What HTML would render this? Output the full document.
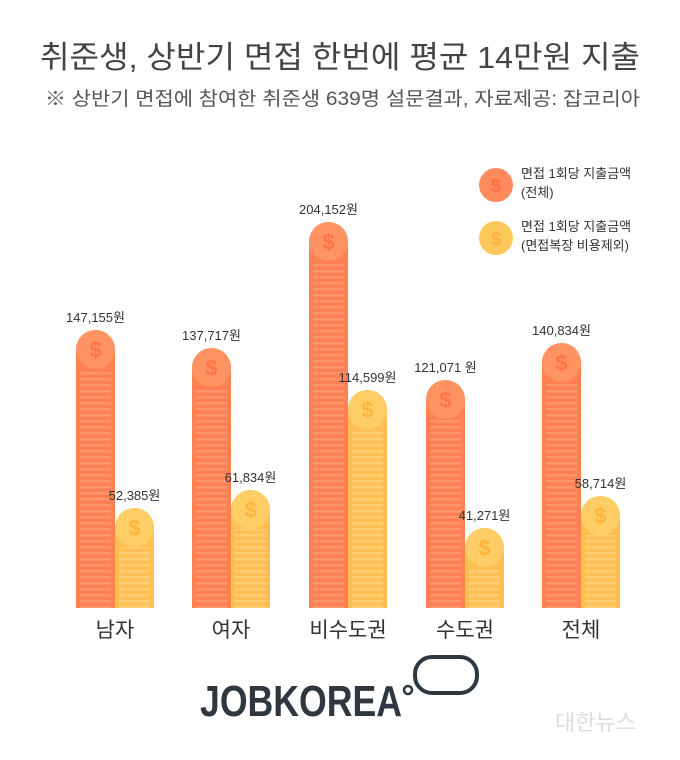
<!DOCTYPE html>
<html><head><meta charset="utf-8"><style>
body{margin:0;background:#fff;width:680px;height:755px;overflow:hidden;font-family:"Liberation Sans","Noto Sans CJK KR",sans-serif}
</style></head><body>
<svg width="680" height="755" viewBox="0 0 680 755" xmlns="http://www.w3.org/2000/svg" font-family="Liberation Sans, Noto Sans CJK KR, sans-serif">
<defs>
<pattern id="so" x="0" y="0" width="10" height="6" patternUnits="userSpaceOnUse"><rect width="10" height="6" fill="#ff7f55"/><rect y="0" width="10" height="2.5" fill="#ff956a"/></pattern>
<pattern id="sy" x="0" y="0" width="10" height="6" patternUnits="userSpaceOnUse"><rect width="10" height="6" fill="#ffbf55"/><rect y="0" width="10" height="2.5" fill="#ffcf72"/></pattern>
</defs>
<text x="40" y="68" font-size="31" fill="#444" textLength="600" lengthAdjust="spacingAndGlyphs">취준생, 상반기 면접 한번에 평균 14만원 지출</text>
<text x="45" y="105" font-size="19" fill="#555" textLength="595" lengthAdjust="spacingAndGlyphs">※ 상반기 면접에 참여한 취준생 639명 설문결과,  자료제공: 잡코리아</text>
<circle cx="496" cy="185" r="17" fill="#ff8a5c"/><text x="496" y="192" text-anchor="middle" font-size="18" font-weight="bold" fill="#ff7040">$</text>
<text x="521" y="178" font-size="13" fill="#333">면접 1회당 지출금액</text>
<text x="521" y="197" font-size="13" fill="#333">(전체)</text>
<circle cx="496" cy="238" r="17" fill="#ffc85a"/><text x="496" y="245" text-anchor="middle" font-size="18" font-weight="bold" fill="#ffb040">$</text>
<text x="521" y="231" font-size="13" fill="#333">면접 1회당 지출금액</text>
<text x="521" y="250" font-size="13" fill="#333">(면접복장 비용제외)</text>
<g id="bars"></g>
<text x="115" y="637" text-anchor="middle" font-size="21" fill="#333">남자</text>
<text x="231" y="637" text-anchor="middle" font-size="21" fill="#333">여자</text>
<text x="348" y="637" text-anchor="middle" font-size="21" fill="#333">비수도권</text>
<text x="465" y="637" text-anchor="middle" font-size="21" fill="#333">수도권</text>
<text x="581" y="637" text-anchor="middle" font-size="21" fill="#333">전체</text>
<text x="200" y="716" font-size="44" font-weight="bold" fill="#2f3840" textLength="202" lengthAdjust="spacingAndGlyphs">JOBKOREA</text>
<circle cx="408" cy="690" r="4" fill="none" stroke="#2f3840" stroke-width="2.5"/>
<rect x="415" y="657" width="62" height="36" rx="17" fill="none" stroke="#2f3840" stroke-width="4"/>
<text x="555" y="730" font-size="22" fill="#ddd">대한뉴스</text>
</svg>
<script>
const g=document.getElementById('bars');
const data=[[76,330,'o','147,155원'],[115,508,'y','52,385원'],[192,348,'o','137,717원'],[231,490,'y','61,834원'],[309,222,'o','204,152원'],[348,390,'y','114,599원'],[426,380,'o','121,071 원'],[465,528,'y','41,271원'],[542,343,'o','140,834원'],[581,496,'y','58,714원']];
let s='';
for(const [x,t,c,l] of data){
 const w=39,r=19.5,b=608;
 const base=c=='o'?'#ff8050':'#ffbf50', light=c=='o'?'#ff9462':'#ffcd66', sign=c=='o'?'#ff7448':'#ffb43e';
 s+=`<path d="M${x} ${b} V${t+r} A${r} ${r} 0 0 1 ${x+w} ${t+r} V${b} Z" fill="${base}"/>`;
 s+=`<rect x="${x+4}" y="${t+r*2}" width="${w-8}" height="${b-t-r*2}" fill="url(#s${c})"/>`;
 s+=`<circle cx="${x+r}" cy="${t+r}" r="${r}" fill="${light}"/>`;
 s+=`<text x="${x+r}" y="${t+r+8}" text-anchor="middle" font-size="22" font-weight="bold" fill="${sign}">$</text>`;
 s+=`<text x="${x+r}" y="${t-8}" text-anchor="middle" font-size="13" fill="#333">${l}</text>`;
}
g.innerHTML=s;
</script>
</body></html>
